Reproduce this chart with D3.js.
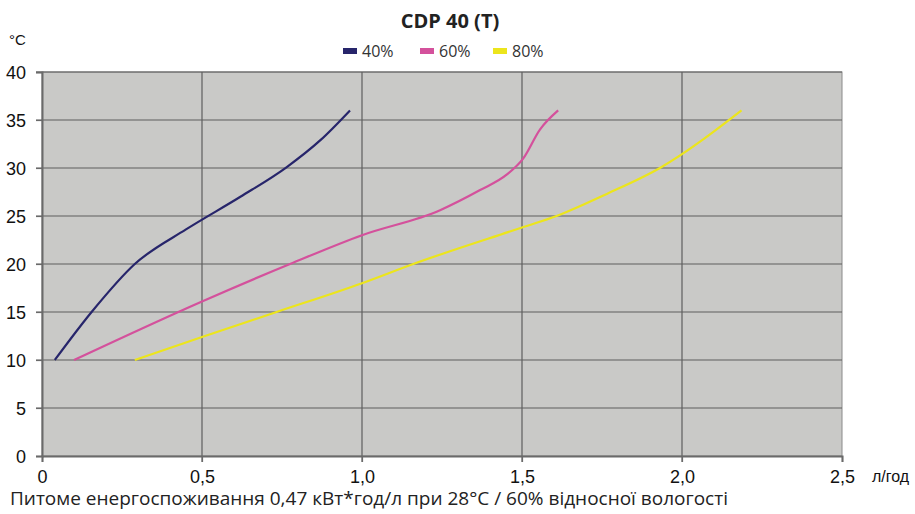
<!DOCTYPE html>
<html>
<head>
<meta charset="utf-8">
<script src="https://cdn.jsdelivr.net/npm/d3@7"></script>
<style>
  body { margin: 0; background: #fff; }
  svg { display: block; }
  .tick-label { font-family: "Liberation Sans", Arial, sans-serif; font-size: 18px; fill: #111; }
</style>
</head>
<body>
<svg id="chart" width="915" height="514"></svg>
<script>
// chart values
const seriesNames = ["40%", "60%", "80%"];
const seriesColors = ["#27256b", "#d4519c", "#ece51c"];
const rh40 = [[0.04, 10], [0.155, 15], [0.29, 20], [0.45, 23.6], [0.62, 27.0], [0.765, 30.1], [0.87, 32.9], [0.9625, 36]];
const rh60 = [[0.10, 10], [0.50, 16.1], [0.775, 20], [1.0, 23], [1.244, 25.6], [1.369, 27.7], [1.452, 29.3], [1.504, 31.0], [1.556, 34], [1.613, 36]];
const rh80 = [[0.29, 10], [0.5, 12.4], [0.733, 15], [1.0, 18], [1.16, 20], [1.5, 23.8], [1.608, 25], [1.765, 27.3], [1.931, 30], [2.186, 36]];
const xTicks = [0, 0.5, 1.0, 1.5, 2.0, 2.5];
const yTicks = [0, 5, 10, 15, 20, 25, 30, 35, 40];

const svg = d3.select("#chart");
const plotL = 42, plotT = 72, plotR = 842, plotB = 456;

const x = d3.scaleLinear().domain([0, 2.5]).range([plotL, plotR]);
const y = d3.scaleLinear().domain([0, 40]).range([plotB, plotT]);

// plot background
svg.append("rect")
    .attr("x", plotL).attr("y", plotT)
    .attr("width", plotR - plotL).attr("height", plotB - plotT)
    .attr("fill", "#c9c9c7")
    .attr("stroke", "#8a8a8a").attr("stroke-width", 1);

// gridlines
svg.append("g").selectAll("line")
    .data(yTicks.filter(d => d > 0))
    .join("line")
    .attr("x1", plotL - 6).attr("x2", plotR)
    .attr("y1", d => y(d)).attr("y2", d => y(d))
    .attr("stroke", "#5e5e5e").attr("stroke-width", 1.2);

svg.append("g").selectAll("line")
    .data(xTicks.filter(d => d > 0 && d < 2.5))
    .join("line")
    .attr("y1", plotT).attr("y2", plotB + 6)
    .attr("x1", d => x(d)).attr("x2", d => x(d))
    .attr("stroke", "#5e5e5e").attr("stroke-width", 1.2);

// axes
const yAxis = svg.append("g")
    .attr("transform", `translate(${plotL},0)`)
    .call(d3.axisLeft(y).tickValues(yTicks).tickSize(6).tickPadding(10).tickFormat(d3.format("d")));
const xAxis = svg.append("g")
    .attr("transform", `translate(0,${plotB})`)
    .call(d3.axisBottom(x).tickValues(xTicks).tickSize(6).tickPadding(8)
        .tickFormat(d => d === 0 ? "0" : d3.format(".1f")(d).replace(".", ",")));

[yAxis, xAxis].forEach(a => {
    a.select(".domain").attr("stroke", "#6a6a6a").attr("stroke-width", 2);
    a.selectAll(".tick line").attr("stroke", "#6a6a6a").attr("stroke-width", 1.2);
    a.selectAll(".tick text").attr("class", "tick-label").attr("font-size", null).attr("font-family", null);
});
yAxis.selectAll(".tick text").attr("dy", "0.36em");

// series, smoothed like the spreadsheet lines
const line = d3.line()
    .x(d => x(d[0]))
    .y(d => y(d[1]))
    .curve(d3.curveMonotoneX);

[rh40, rh60, rh80].forEach((data, i) => {
    svg.append("path")
        .datum(data)
        .attr("d", line)
        .attr("fill", "none")
        .attr("stroke", seriesColors[i])
        .attr("stroke-width", 2.2);
});

// title
svg.append("text")
    .attr("x", 450).attr("y", 28)
    .attr("text-anchor", "middle")
    .attr("font-family", "'Open Sans', 'Noto Sans', sans-serif")
    .attr("font-weight", "bold").attr("font-size", 20)
    .attr("fill", "#222")
    .text("CDP 40 (T)");

// legend
const legendX = [343, 420, 493];
const legend = svg.append("g").selectAll("g")
    .data(seriesNames)
    .join("g")
    .attr("transform", (d, i) => `translate(${legendX[i]},0)`);
legend.append("rect")
    .attr("x", 0).attr("y", 48)
    .attr("width", 14).attr("height", 6)
    .attr("fill", (d, i) => seriesColors[i]);
legend.append("text")
    .attr("x", 19).attr("y", 57)
    .attr("font-family", "'Open Sans', 'Noto Sans', sans-serif")
    .attr("font-size", 16)
    .attr("fill", "#333")
    .text(d => d);

// units
svg.append("text")
    .attr("x", 9).attr("y", 45)
    .attr("font-family", "'Liberation Sans', Arial, sans-serif")
    .attr("font-size", 15).attr("fill", "#111")
    .text("°C");
svg.append("text")
    .attr("x", 872).attr("y", 482)
    .attr("font-family", "'Liberation Sans', Arial, sans-serif")
    .attr("font-size", 16).attr("fill", "#111")
    .text("л/год");

// caption
svg.append("text")
    .attr("x", 10).attr("y", 505)
    .attr("font-family", "'Open Sans', 'Noto Sans', sans-serif")
    .attr("font-size", 19).attr("fill", "#222")
    .text("Питоме енергоспоживання 0,47 кВт*год/л при 28°С / 60% відносної вологості");
</script>
</body>
</html>
